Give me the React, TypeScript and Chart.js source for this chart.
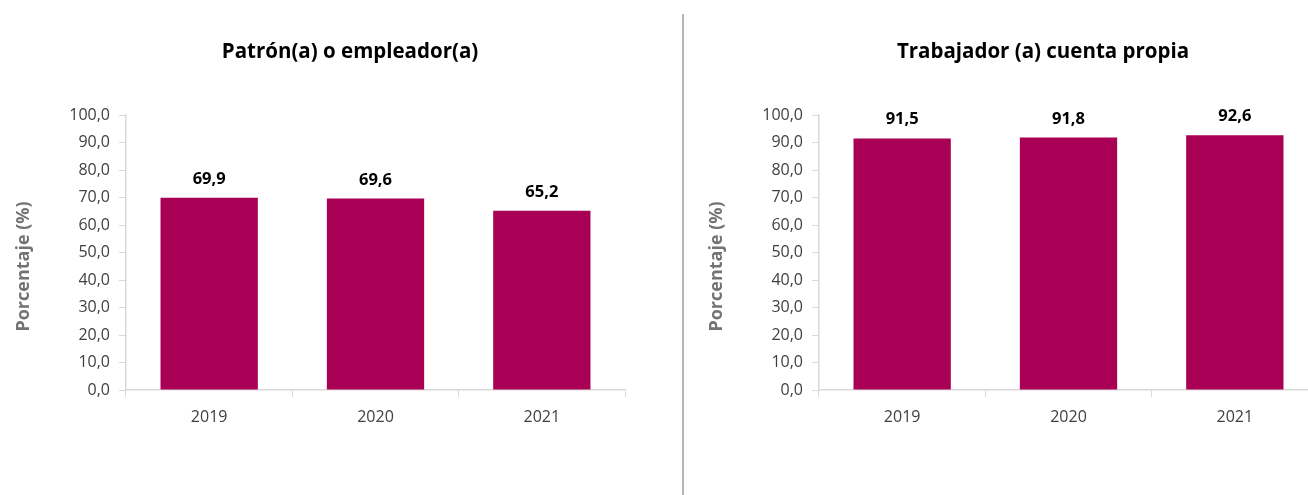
import React, { useEffect, useRef } from "react";
import { Chart, registerables } from "chart.js";

Chart.register(...registerables);

const years = ["2019", "2020", "2021"];
const patronValues = [69.9, 69.6, 65.2];
const cuentaPropiaValues = [91.5, 91.8, 92.6];
const titles = ["Patrón(a) o empleador(a)", "Trabajador (a) cuenta propia"];
const yAxisTitle = "Porcentaje (%)";

const BAR_COLOR = "#A90055";
const AXIS_COLOR = "#d9d9d9";
const FONT = '"Open Sans", "Noto Sans", sans-serif';

const fmt = (v: number) => v.toFixed(1).replace(".", ",");

const valueLabels = {
  id: "valueLabels",
  afterDatasetsDraw(chart: any) {
    const ctx = chart.ctx;
    const meta = chart.getDatasetMeta(0);
    const data = chart.data.datasets[0].data as number[];
    ctx.save();
    ctx.font = `bold 16.5px ${FONT}`;
    ctx.fillStyle = "#000000";
    ctx.textAlign = "center";
    ctx.textBaseline = "alphabetic";
    meta.data.forEach((el: any, i: number) => {
      ctx.fillText(fmt(data[i]), el.x, el.y - 14);
    });
    ctx.restore();
  },
};

// y-axis title, drawn rotated next to the value axis (Excel-style placement)
const yTitlePlugin = {
  id: "yTitle",
  afterDraw(chart: any) {
    const ctx = chart.ctx;
    const area = chart.chartArea;
    ctx.save();
    ctx.translate(24, (area.top + area.bottom) / 2 + 14);
    ctx.rotate(-Math.PI / 2);
    ctx.font = `bold 18px ${FONT}`;
    ctx.fillStyle = "#737373";
    ctx.textAlign = "center";
    ctx.textBaseline = "middle";
    ctx.fillText(yAxisTitle, 0, 0);
    ctx.restore();
  },
};

function BarPanel({ title, values }: { title: string; values: number[] }) {
  const ref = useRef<HTMLCanvasElement | null>(null);
  useEffect(() => {
    if (!ref.current) return;
    const chart = new Chart(ref.current, {
      type: "bar",
      data: {
        labels: years,
        datasets: [
          {
            data: values,
            backgroundColor: BAR_COLOR,
            borderWidth: 0,
            categoryPercentage: 1,
            barPercentage: 0.585,
          },
        ],
      },
      options: {
        responsive: false,
        animation: false,
        devicePixelRatio: 1,
        layout: { padding: 0 },
        plugins: {
          legend: { display: false },
          tooltip: { enabled: false },
          title: {
            display: true,
            text: title,
            color: "#000000",
            font: { family: FONT, size: 20.5, weight: "bold" },
            padding: { top: 40, bottom: 50.4 },
          },
        },
        scales: {
          x: {
            offset: true,
            grid: {
              offset: true,
              drawOnChartArea: false,
              drawTicks: true,
              tickLength: 7,
              color: AXIS_COLOR,
            },
            border: { display: true, color: AXIS_COLOR, width: 1.5 },
            ticks: {
              color: "#404040",
              padding: 11,
              font: { family: FONT, size: 16 },
            },
            afterFit: (scale: any) => {
              scale.height = 105;
            },
          },
          y: {
            min: 0,
            max: 100,
            grid: {
              drawOnChartArea: false,
              drawTicks: true,
              tickLength: 7,
              color: AXIS_COLOR,
            },
            border: { display: true, color: AXIS_COLOR, width: 1.5 },
            ticks: {
              stepSize: 10,
              color: "#404040",
              padding: 9,
              font: { family: FONT, size: 16 },
              callback: (v: any) => fmt(Number(v)),
            },
            afterFit: (scale: any) => {
              scale.width = 126;
            },
          },
          spacer: {
            type: "linear",
            position: "right",
            display: true,
            grid: { display: false, drawTicks: false },
            border: { display: false },
            ticks: { display: false },
            afterFit: (scale: any) => {
              scale.width = 75;
            },
          },
        },
      },
      plugins: [valueLabels, yTitlePlugin],
    } as any);
    return () => chart.destroy();
  }, [title, values]);
  return (
    <canvas
      ref={ref}
      width={700}
      height={495}
      style={{ width: 700, height: 495, display: "block" }}
    />
  );
}

export default function App() {
  return (
    <div
      style={{
        position: "absolute",
        left: 0,
        top: 0,
        width: 1308,
        height: 495,
        overflow: "hidden",
        background: "#ffffff",
      }}
    >
      <div style={{ position: "absolute", left: 0, top: 0 }}>
        <BarPanel title={titles[0]} values={patronValues} />
      </div>
      <div
        style={{
          position: "absolute",
          left: 682,
          top: 14,
          width: 2,
          height: 481,
          background: "#b5b5b5",
        }}
      />
      <div style={{ position: "absolute", left: 693, top: 0 }}>
        <BarPanel title={titles[1]} values={cuentaPropiaValues} />
      </div>
    </div>
  );
}
